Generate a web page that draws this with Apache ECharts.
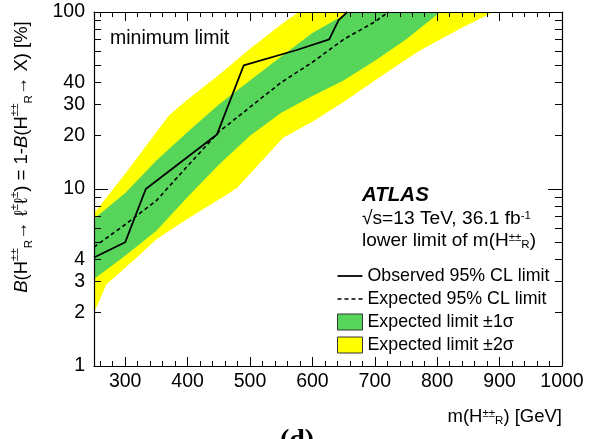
<!DOCTYPE html>
<html>
<head>
<meta charset="utf-8">
<script src="https://cdn.jsdelivr.net/npm/echarts@6/dist/echarts.min.js"></script>
<style>
  html, body { margin: 0; padding: 0; background: #fff; }
  #chart { width: 603px; height: 439px; }
</style>
</head>
<body>
<div id="chart"></div>
<script>
// observed / expected 95% CL limits (%), vs m(H++_R) in GeV
const massObs = [250, 300, 333, 447, 490, 575, 627, 642, 656]
const obsLimit = [4.1, 5.0, 10, 20.3, 50, 61, 70, 90, 100]
const massExp = [250, 300, 350, 400, 450, 500, 550, 600, 650, 700, 722]
const expLimit = [4.7, 6.3, 8.6, 13.5, 21, 29, 40, 52, 70, 88, 100]

// +-1 sigma band
const green1UpMass = [250, 300, 350, 400, 450, 500, 550, 600, 650, 660]
const green1Up = [6.8, 9.5, 14.5, 21, 30, 41, 56, 76, 96, 100]
const green1LoMass = [250, 300, 350, 400, 450, 500, 550, 600, 650, 700, 750, 805]
const green1Lo = [3.1, 4.2, 5.8, 9.0, 13.7, 20, 27, 33.5, 41, 53, 70, 100]

// +-2 sigma band
const yellow2UpMass = [250, 300, 370, 400, 450, 500, 550, 578]
const yellow2Up = [7.3, 12.2, 26, 32, 44, 62, 85, 100]
const yellow2LoMass = [250, 270, 315, 350, 400, 465, 480, 553, 600, 650, 700, 740, 770, 835, 890]
const yellow2Lo = [2.0, 2.9, 4.0, 5.2, 6.8, 9.4, 10.2, 19.5, 24, 31, 41, 51, 60, 80, 100]

// axis ticks
const xLabelVals = [300, 400, 500, 600, 700, 800, 900, 1000]
const xMinorVals = Array.from({length: 38}, (v, i) => 260 + i * 20)
const yLabelVals = [1, 2, 3, 4, 10, 20, 30, 40, 100]
const yTickVals = [1, 2, 3, 4, 5, 6, 7, 8, 9, 10, 20, 30, 40, 50, 60, 70, 80, 90, 100]
const yDecadeVals = [1, 10, 100]

const GREEN = '#57d55b', YELLOW = '#ffff00'
const FONT = 'Liberation Sans'

const pairs = (xs, ys) => xs.map((x, i) => [x, ys[i]])
const band = (upX, upY, loX, loY) => pairs(upX, upY).concat(pairs(loX, loY).reverse())
const yellowPts = band(yellow2UpMass, yellow2Up, yellow2LoMass, yellow2Lo)
const greenPts = band(green1UpMass, green1Up, green1LoMass, green1Lo)

function bandSeries(name, pts, color) {
  return {
    type: 'custom', name: name, clip: true, silent: true,
    itemStyle: { color: color },
    data: pts,
    renderItem: (params, api) => {
      if (params.dataIndex !== 0) return null
      return { type: 'polygon', shape: { points: pts.map(p => api.coord(p)) }, style: { fill: color } }
    }
  }
}

const frameLine = { show: true, onZero: false, lineStyle: { color: '#000', width: 1.2 } }
const tickStyle = { color: '#000', width: 1 }
function xAx(pos, vals, len, withLine, withLabel) {
  return {
    type: 'value', position: pos, min: 250, max: 1000, z: 10,
    axisLine: withLine ? frameLine : { show: false },
    axisTick: { show: true, inside: true, length: len, customValues: vals, lineStyle: tickStyle },
    axisLabel: withLabel ? { customValues: xLabelVals, formatter: v => String(v), fontSize: 19.5, color: '#000', fontFamily: FONT, margin: 6 } : { show: false },
    splitLine: { show: false }
  }
}
function yAx(pos, vals, len, withLine, withLabel) {
  return {
    type: 'log', position: pos, min: 1, max: 100, logBase: 10, z: 10,
    axisLine: withLine ? frameLine : { show: false },
    axisTick: { show: true, inside: true, length: len, customValues: vals, lineStyle: tickStyle },
    axisLabel: withLabel ? { customValues: yLabelVals, formatter: v => String(v), fontSize: 19.5, color: '#000', fontFamily: FONT, margin: 9 } : { show: false },
    splitLine: { show: false }
  }
}

// legend icons: 25x16 box with a horizontal line through the middle
const solidIcon = 'path://M0,0M25,16M0,7.1h25v1.8h-25z'
const dashIcon = 'path://M0,0M25,16M0,7.2h4v1.6h-4zM7,7.2h4v1.6h-4zM14,7.2h4v1.6h-4zM21,7.2h4v1.6h-4z'

const sup = { fontSize: 11.5, verticalAlign: 'top', lineHeight: 11, fill: '#000', fontFamily: FONT }
const sub = { fontSize: 11.5, verticalAlign: 'bottom', lineHeight: 11, fill: '#000', fontFamily: FONT }
const it = { fontStyle: 'italic', fontSize: 18.5, fill: '#000', fontFamily: FONT, lineHeight: 26 }

var chart = echarts.init(document.getElementById('chart'))
var option = {
  animation: false,
  backgroundColor: '#fff',
  grid: { left: 94, right: 41, top: 12, bottom: 73 },
  xAxis: [
    xAx('bottom', xLabelVals, 9, true, true),
    xAx('bottom', xMinorVals, 5, false, false),
    xAx('top', xLabelVals, 9, true, false),
    xAx('top', xMinorVals, 5, false, false)
  ],
  yAxis: [
    yAx('left', yTickVals, 7, true, true),
    yAx('left', yDecadeVals, 14, false, false),
    yAx('right', yTickVals, 7, true, false),
    yAx('right', yDecadeVals, 14, false, false)
  ],
  legend: {
    left: 337, top: 267, orient: 'vertical', padding: 0,
    itemWidth: 25, itemHeight: 16, itemGap: 5,
    textStyle: { fontSize: 17.8, color: '#000', fontFamily: FONT, lineHeight: 16 },
    data: [
      { name: 'Observed 95% CL limit', icon: solidIcon, itemStyle: { color: '#000', borderWidth: 0 } },
      { name: 'Expected 95% CL limit', icon: dashIcon, itemStyle: { color: '#000', borderWidth: 0 } },
      { name: 'Expected limit ±1σ', icon: 'rect', itemStyle: { borderColor: '#333', borderWidth: 1 } },
      { name: 'Expected limit ±2σ', icon: 'rect', itemStyle: { borderColor: '#333', borderWidth: 1 } }
    ]
  },
  series: [
    bandSeries('Expected limit ±2σ', yellowPts, YELLOW),
    bandSeries('Expected limit ±1σ', greenPts, GREEN),
    {
      type: 'line', name: 'Expected 95% CL limit', symbol: 'none', silent: true,
      data: pairs(massExp, expLimit),
      itemStyle: { color: '#000' },
      lineStyle: { color: '#000', width: 1.6, type: [4, 3] }
    },
    {
      type: 'line', name: 'Observed 95% CL limit', symbol: 'none', silent: true,
      data: pairs(massObs, obsLimit),
      itemStyle: { color: '#000' },
      lineStyle: { color: '#000', width: 1.8 }
    }
  ],
  graphic: [
    { type: 'text', x: 110, y: 39, style: { text: 'minimum limit', fontSize: 19.5, fontFamily: FONT, fill: '#000', verticalAlign: 'middle' } },
    { type: 'text', x: 362, y: 195, style: { text: 'ATLAS', fontSize: 20.5, fontWeight: 'bold', fontStyle: 'italic', fontFamily: FONT, fill: '#000', verticalAlign: 'middle' } },
    { type: 'text', x: 362, y: 219, style: {
      text: '√s=13 TeV, 36.1 fb{sup|-1}', fontSize: 19.2, fontFamily: FONT, fill: '#000', verticalAlign: 'middle',
      rich: { sup: sup } } },
    { type: 'text', x: 362, y: 241, style: {
      text: 'lower limit of m(H{sup|±±}{sub|R})', fontSize: 19, fontFamily: FONT, fill: '#000', verticalAlign: 'middle',
      rich: { sup: sup, sub: sub } } },
    { type: 'text', x: 562, y: 417, style: {
      text: 'm(H{sup|±±}{sub|R}) [GeV]', fontSize: 18.5, fontFamily: FONT, fill: '#000', align: 'right', verticalAlign: 'middle',
      rich: { sup: sup, sub: sub } } },
    { type: 'text', x: 22, y: 157, rotation: Math.PI / 2, style: {
      text: '{i|B}(H{sup|±±}{sub|R}→ ℓ{sup|±}ℓ{sup|±}) = 1-{i|B}(H{sup|±±}{sub|R}→ X) [%]',
      fontSize: 18.5, fontFamily: FONT, fill: '#000', align: 'center', verticalAlign: 'middle',
      rich: { sup: sup, sub: sub, i: it } } },
    { type: 'text', x: 297, y: 427, style: { text: '(d)', fontSize: 28, fontWeight: 'bold', fontFamily: 'Liberation Serif', fill: '#000', align: 'center', verticalAlign: 'top' } }
  ]
}
chart.setOption(option)
</script>
</body>
</html>
